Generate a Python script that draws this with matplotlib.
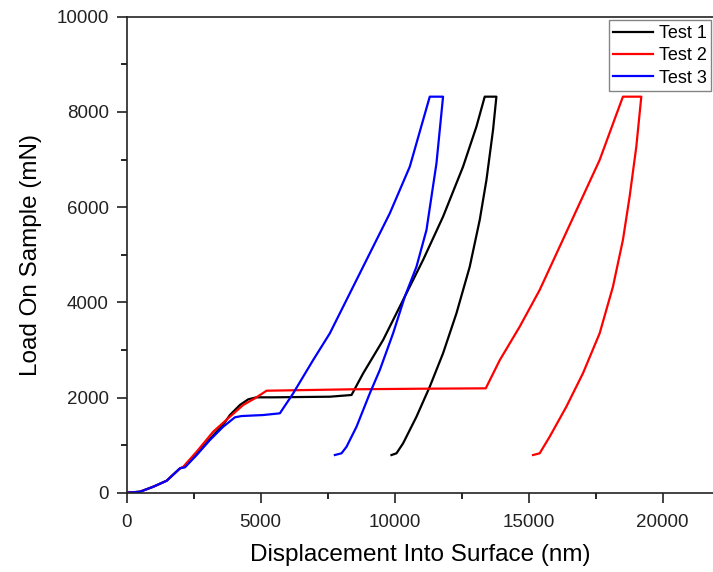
import matplotlib.pyplot as plt
from matplotlib.ticker import MultipleLocator

plt.rcParams['font.family'] = ['Liberation Sans', 'DejaVu Sans']

# Test 1 (black): load, plateau, reload, hold, unload
t1_x = [0, 496, 992, 1492, 1988, 2174, 2610, 3106, 3602, 3852, 4225, 4535, 4848, 5467, 7581, 8390,
        8824, 9569, 10315, 11060, 11806, 12552, 13051, 13361,
        13797, 13671, 13425, 13174, 12802, 12306, 11806, 11310, 10814, 10315, 10068, 9882]
t1_y = [0, 21, 126, 252, 512, 545, 805, 1130, 1430, 1632, 1843, 1962, 2004, 2004, 2017, 2053,
        2508, 3208, 4049, 4889, 5799, 6849, 7690, 8320,
        8320, 7620, 6570, 5729, 4748, 3769, 2929, 2227, 1597, 1038, 828, 792]

# Test 2 (red)
t2_x = [0, 496, 992, 1492, 1988, 2111, 2610, 3229, 3852, 4348, 4784, 5221, 8327, 11000, 13400,
        13925, 14666, 15412, 16158, 16904, 17650, 18518,
        19204, 19018, 18768, 18518, 18146, 17650, 17027, 16407, 15785, 15412, 15163]
t2_y = [0, 21, 126, 252, 512, 546, 861, 1282, 1597, 1843, 1983, 2143, 2172, 2185, 2193,
        2788, 3488, 4259, 5169, 6080, 6990, 8320,
        8320, 7269, 6219, 5309, 4328, 3349, 2509, 1807, 1177, 828, 792]

# Test 3 (blue)
t3_x = [0, 496, 992, 1492, 1988, 2174, 2610, 3106, 3602, 4038, 4288, 5094, 5716,
        6213, 6959, 7581, 8327, 9073, 9819, 10564, 11310,
        11806, 11560, 11187, 10814, 10378, 9942, 9446, 9073, 8577, 8204, 8017, 7768]
t3_y = [0, 21, 126, 252, 512, 534, 792, 1107, 1387, 1584, 1611, 1632, 1668,
        2088, 2788, 3349, 4189, 5030, 5870, 6849, 8320,
        8320, 6920, 5519, 4748, 4118, 3349, 2578, 2088, 1387, 966, 828, 792]

fig = plt.figure(figsize=(7.13, 5.72), dpi=100)
ax = fig.add_axes([0.1777, 0.1386, 0.8223, 0.8322])

ax.plot(t1_x, t1_y, color='black', lw=1.6, label='Test 1')
ax.plot(t2_x, t2_y, color='red', lw=1.6, label='Test 2')
ax.plot(t3_x, t3_y, color='blue', lw=1.6, label='Test 3')

ax.set_xlim(0, 21880)
ax.set_ylim(0, 10000)
ax.xaxis.set_major_locator(MultipleLocator(5000))
ax.xaxis.set_minor_locator(MultipleLocator(2500))
ax.yaxis.set_major_locator(MultipleLocator(2000))
ax.yaxis.set_minor_locator(MultipleLocator(1000))
ax.tick_params(which='major', direction='out', length=7, width=1.2, labelsize=13.5, pad=6, colors='#222222')
ax.tick_params(axis='x', which='major', pad=8)
ax.tick_params(which='minor', direction='out', length=4, width=1.2)
ax.spines['right'].set_visible(False)
for s in ['left', 'bottom', 'top']:
    ax.spines[s].set_linewidth(1.2)
    ax.spines[s].set_color('#222222')

ax.set_xlabel('Displacement Into Surface (nm)', fontsize=17.5, labelpad=10)
ax.set_ylabel('Load On Sample (mN)', fontsize=17.5, labelpad=10)

leg = ax.legend(loc='upper right', bbox_to_anchor=(1.0, 0.996), fontsize=13, frameon=True, fancybox=False,
                handlelength=2.2, handletextpad=0.33, labelspacing=0.3, borderpad=0.25, borderaxespad=0.1)
leg.get_frame().set_edgecolor('#666666')
leg.get_frame().set_linewidth(1.0)

fig.savefig('out.png', dpi=100)
